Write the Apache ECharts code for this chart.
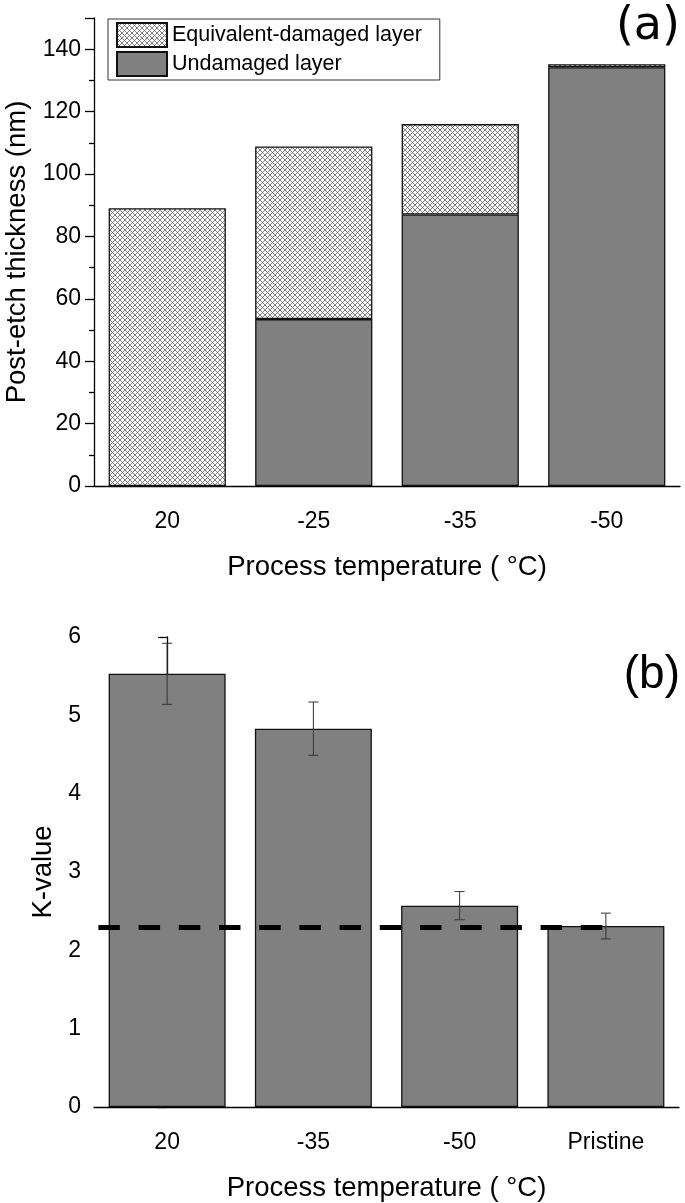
<!DOCTYPE html>
<html>
<head>
<meta charset="utf-8">
<script src="https://cdn.jsdelivr.net/npm/echarts@6/dist/echarts.min.js"></script>
<style>
html,body{margin:0;padding:0;background:#fff;}
#chart{width:685px;height:1203px;}
</style>
</head>
<body>
<div id="chart"></div>
<script>
// ---- Data (a) ----
const catsA = ['20', '-25', '-35', '-50'];
const undamaged = [0, 53.5, 87, 134.2];
const damaged = [89, 55.3, 29, 1];
// ---- Data (b) ----
const catsB = ['20', '-35', '-50', 'Pristine'];
const kValue = [5.53, 4.83, 2.57, 2.31];
const kErr = [0.39, 0.34, 0.18, 0.165];
const pristineLevel = 2.29;
const refLineX = [-0.47, 3];

const FONT = "'Liberation Sans', Arial, sans-serif";

function hatch() {
  const s = 5;
  const c = document.createElement('canvas');
  c.width = s; c.height = s;
  const g = c.getContext('2d');
  g.fillStyle = '#ffffff';
  g.fillRect(0, 0, s, s);
  g.strokeStyle = '#555';
  g.lineWidth = 0.75;
  g.beginPath();
  g.moveTo(0, 0); g.lineTo(s, s);
  g.moveTo(s, 0); g.lineTo(0, s);
  g.stroke();
  return { image: c, repeat: 'repeat' };
}

const chart = echarts.init(document.getElementById('chart'), null, { renderer: 'canvas' });

const axisLineStyle = { color: '#000', width: 1.3 };
const labelStyle = { color: '#000', fontSize: 23, fontFamily: FONT };
const nameStyle = { color: '#000', fontSize: 27.5, fontFamily: FONT };

function catAxes(gridIndex, cats) {
  return [
    {
      type: 'category', gridIndex, data: cats,
      axisLine: { lineStyle: axisLineStyle },
      axisTick: { alignWithLabel: true, length: 9, lineStyle: axisLineStyle },
      axisLabel: Object.assign({ margin: 24 }, labelStyle),
      name: 'Process temperature ( \u00B0C)', nameLocation: 'middle', nameGap: 67,
      nameTextStyle: nameStyle
    },
    {
      type: 'category', gridIndex, data: cats, position: 'bottom',
      axisLine: { show: false },
      axisTick: { length: 5, lineStyle: axisLineStyle },
      axisLabel: { show: false }
    }
  ];
}

const errData = kValue.map((v, i) => [i, v - kErr[i], v + kErr[i]]);

const option = {
  backgroundColor: '#fff',
  animation: false,
  grid: [
    { left: 94, top: 18, width: 586, height: 468, outerBoundsMode: 'none', containLabel: false },
    { left: 94, top: 637, width: 585, height: 470, outerBoundsMode: 'none', containLabel: false }
  ],
  legend: {
    left: 108, top: 19,
    orient: 'vertical',
    data: ['Equivalent-damaged layer', 'Undamaged layer'],
    icon: 'rect',
    itemWidth: 50, itemHeight: 24, itemGap: 3,
    padding: [3, 18, 3, 8],
    borderColor: '#333', borderWidth: 1,
    textStyle: { color: '#000', fontSize: 21.5, fontFamily: FONT },
    selectedMode: false
  },
  xAxis: [
    ...catAxes(0, catsA),
    ...catAxes(1, catsB),
    { type: 'value', gridIndex: 1, min: -0.5, max: 3.5, show: false }
  ],
  yAxis: [
    {
      type: 'value', gridIndex: 0, min: 0, max: 150, interval: 20,
      axisLine: { show: true, lineStyle: axisLineStyle },
      axisTick: { show: true, length: 9, lineStyle: axisLineStyle },
      minorTick: { show: true, splitNumber: 2, length: 5, lineStyle: axisLineStyle },
      splitLine: { show: false },
      axisLabel: Object.assign({ margin: 13, showMaxLabel: false }, labelStyle),
      name: 'Post-etch thickness (nm)', nameLocation: 'middle', nameGap: 57,
      nameTextStyle: nameStyle
    },
    {
      type: 'value', gridIndex: 1, min: 0, max: 6, interval: 1,
      axisLine: { show: true, lineStyle: axisLineStyle },
      axisTick: { show: true, length: 9, lineStyle: axisLineStyle },
      minorTick: { show: true, splitNumber: 2, length: 5, lineStyle: axisLineStyle },
      splitLine: { show: false },
      axisLabel: Object.assign({ margin: 13 }, labelStyle),
      name: 'K-value', nameLocation: 'middle', nameGap: 36,
      nameTextStyle: nameStyle
    }
  ],
  series: [
    {
      name: 'Undamaged layer', type: 'bar', stack: 'a', xAxisIndex: 0, yAxisIndex: 0,
      data: undamaged, barCategoryGap: '20%',
      itemStyle: { color: '#808080', borderColor: '#111', borderWidth: 1.3 }
    },
    {
      name: 'Equivalent-damaged layer', type: 'bar', stack: 'a', xAxisIndex: 0, yAxisIndex: 0,
      data: damaged, barCategoryGap: '20%',
      itemStyle: { color: hatch(), borderColor: '#111', borderWidth: 1.3 }
    },
    {
      name: 'K', type: 'bar', xAxisIndex: 2, yAxisIndex: 1,
      data: kValue, barCategoryGap: '20%',
      itemStyle: { color: '#808080', borderColor: '#111', borderWidth: 1.3 }
    },
    {
      name: 'ref', type: 'line', xAxisIndex: 4, yAxisIndex: 1,
      data: refLineX.map(x => [x, pristineLevel]),
      symbol: 'none', z: 5,
      lineStyle: { color: '#000', width: 5, type: [21.5, 18.7] }
    },
    {
      name: 'err', type: 'custom', xAxisIndex: 2, yAxisIndex: 1, z: 6,
      data: errData,
      renderItem: function (params, api) {
        const x = api.value(0);
        const lo = api.coord([x, api.value(1)]);
        const hi = api.coord([x, api.value(2)]);
        const w = 5;
        const st = { stroke: '#333', lineWidth: 1 };
        return {
          type: 'group',
          children: [
            { type: 'line', shape: { x1: lo[0], y1: lo[1], x2: hi[0], y2: hi[1] }, style: st },
            { type: 'line', shape: { x1: lo[0] - w, y1: lo[1], x2: lo[0] + w, y2: lo[1] }, style: st },
            { type: 'line', shape: { x1: hi[0] - w, y1: hi[1], x2: hi[0] + w, y2: hi[1] }, style: st }
          ]
        };
      }
    }
  ],
  graphic: [
    { type: 'text', right: 5, top: 4, style: { text: '(a)', fontSize: 46, fontFamily: "'DejaVu Sans', sans-serif", fill: '#000' } },
    { type: 'text', right: 5, top: 652, style: { text: '(b)', fontSize: 46, fontFamily: FONT, fill: '#000' } }
  ]
};

chart.setOption(option);
</script>
</body>
</html>
